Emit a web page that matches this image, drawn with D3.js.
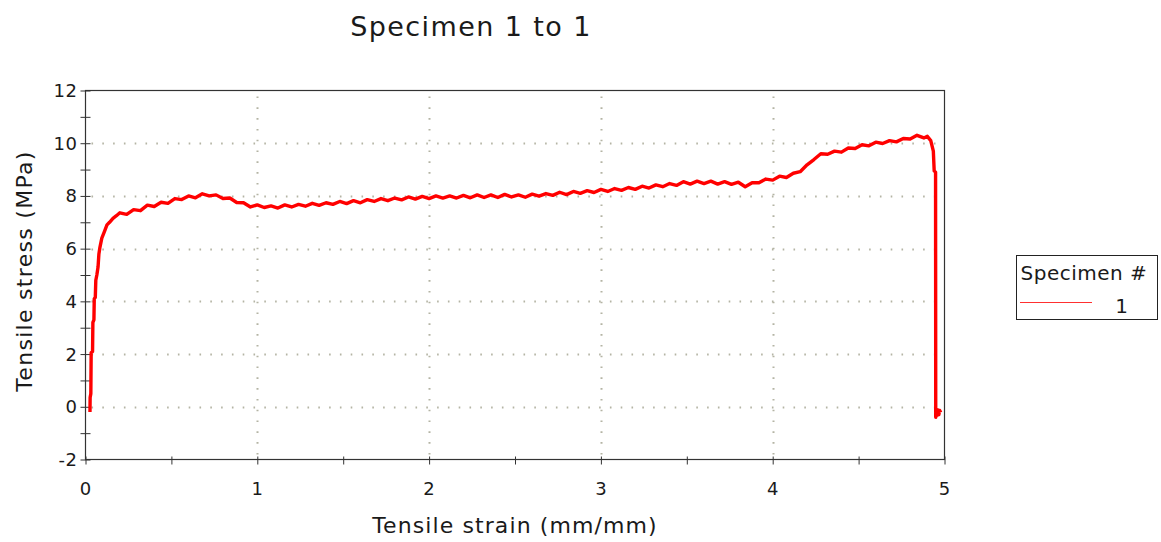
<!DOCTYPE html>
<html>
<head>
<meta charset="utf-8">
<script src="https://cdn.jsdelivr.net/npm/d3@7"></script>
<style>
  body { margin: 0; background: #fff; }
  text { font-family: "DejaVu Sans", Verdana, sans-serif; fill: #1a1a1a; }
</style>
</head>
<body>
<svg id="chart" width="1161" height="542"></svg>
<script>
// specimen 1, tensile test readings [strain (mm/mm), stress (MPa)]
const specimen1 = [
  [0.026, -0.2], [0.027, 0.35], [0.031, 0.5], [0.033, 2.05], [0.041, 2.1], [0.043, 3.2],
  [0.049, 3.3], [0.051, 4.1], [0.057, 4.15], [0.060, 4.8], [0.066, 5.0], [0.073, 5.3],
  [0.078, 5.8], [0.084, 6.05], [0.095, 6.4], [0.11, 6.65], [0.125, 6.9], [0.14, 7.0],
  [0.16, 7.15], [0.18, 7.25],
  [0.20, 7.36], [0.24, 7.30], [0.28, 7.48], [0.32, 7.44], [0.36, 7.65], [0.40, 7.60],
  [0.44, 7.76], [0.48, 7.72], [0.52, 7.90], [0.56, 7.86], [0.60, 8.00], [0.64, 7.93],
  [0.68, 8.08], [0.72, 8.00], [0.76, 8.04], [0.80, 7.90], [0.84, 7.92], [0.88, 7.75],
  [0.92, 7.74], [0.96, 7.58], [1.00, 7.66], [1.04, 7.56], [1.08, 7.62], [1.12, 7.54],
  [1.16, 7.66], [1.20, 7.58], [1.24, 7.68], [1.28, 7.61], [1.32, 7.72], [1.36, 7.64],
  [1.40, 7.74], [1.44, 7.68], [1.48, 7.79], [1.52, 7.71], [1.56, 7.82], [1.60, 7.74],
  [1.64, 7.86], [1.68, 7.79], [1.72, 7.90], [1.76, 7.82], [1.80, 7.92], [1.84, 7.85],
  [1.88, 7.96], [1.92, 7.88], [1.96, 7.98], [2.00, 7.90], [2.04, 8.00], [2.08, 7.92],
  [2.12, 8.00], [2.16, 7.92], [2.20, 8.02], [2.24, 7.93], [2.28, 8.04], [2.32, 7.94],
  [2.36, 8.04], [2.40, 7.94], [2.44, 8.06], [2.48, 7.96], [2.52, 8.04], [2.56, 7.95],
  [2.60, 8.07], [2.64, 7.99], [2.68, 8.09], [2.72, 8.02], [2.76, 8.14], [2.80, 8.05],
  [2.84, 8.17], [2.88, 8.10], [2.92, 8.20], [2.96, 8.13], [3.00, 8.25], [3.04, 8.17],
  [3.08, 8.28], [3.12, 8.21], [3.16, 8.32], [3.20, 8.25], [3.24, 8.37], [3.28, 8.30],
  [3.32, 8.42], [3.36, 8.35], [3.40, 8.47], [3.44, 8.40], [3.48, 8.54], [3.52, 8.45],
  [3.56, 8.56], [3.60, 8.47], [3.64, 8.56], [3.68, 8.45], [3.72, 8.54], [3.76, 8.44],
  [3.80, 8.52], [3.84, 8.35], [3.88, 8.50], [3.92, 8.50], [3.96, 8.64], [4.00, 8.60],
  [4.04, 8.75], [4.08, 8.70], [4.12, 8.86], [4.16, 8.92], [4.20, 9.18], [4.24, 9.38],
  [4.28, 9.60], [4.32, 9.58], [4.36, 9.70], [4.40, 9.66], [4.44, 9.82], [4.48, 9.80],
  [4.52, 9.94], [4.56, 9.90], [4.60, 10.04], [4.64, 9.99], [4.68, 10.10], [4.72, 10.05],
  [4.76, 10.18], [4.80, 10.16], [4.84, 10.30], [4.88, 10.20], [4.90, 10.26], [4.92, 10.1],
  [4.935, 9.7], [4.94, 8.95], [4.948, 8.9], [4.949, -0.4], [4.952, -0.1], [4.957, -0.32],
  [4.962, -0.12], [4.967, -0.3], [4.972, -0.14], [4.978, -0.22]
];

const yTicks = [-2, 0, 2, 4, 6, 8, 10, 12];
const yMinor = [-1, 1, 3, 5, 7, 9, 11];
const xTicks = [0, 1, 2, 3, 4, 5];
const xMinor = [0.5, 1.5, 2.5, 3.5, 4.5];
const specimens = ["1"];

const svg = d3.select("#chart");
const plotL = 85.5, plotR = 944.5, plotT = 90.5, plotB = 459.5;

const x = d3.scaleLinear().domain([0, 5]).range([plotL, plotR]);
const y = d3.scaleLinear().domain([-2, 12]).range([plotB, plotT]);

// dotted grid
const grid = svg.append("g")
  .attr("stroke", "#b4b4a4").attr("stroke-width", 2).attr("stroke-dasharray", "1.6,9.2");
grid.selectAll(".gy").data(yTicks.filter(d => d > -2 && d < 12)).join("line")
  .attr("x1", plotL + 6).attr("x2", plotR)
  .attr("y1", d => Math.round(y(d)) + 0.5).attr("y2", d => Math.round(y(d)) + 0.5);
grid.selectAll(".gx").data(xTicks.filter(d => d > 0 && d < 5)).join("line")
  .attr("y1", plotT + 6).attr("y2", plotB)
  .attr("x1", d => Math.round(x(d)) + 0.5).attr("x2", d => Math.round(x(d)) + 0.5);

// frame
svg.append("rect").attr("x", plotL).attr("y", plotT)
  .attr("width", plotR - plotL).attr("height", plotB - plotT)
  .attr("fill", "none").attr("stroke", "#333").attr("stroke-width", 1.2);

// axes, ticks cross the frame line
const yAxis = svg.append("g").attr("transform", `translate(${plotL + 5},0)`)
  .call(d3.axisLeft(y).tickValues(yTicks.concat(yMinor)).tickSize(10).tickFormat(""));
yAxis.select(".domain").remove();
yAxis.selectAll("line").attr("stroke", "#333");

const xAxis = svg.append("g").attr("transform", `translate(0,${plotB - 3})`)
  .call(d3.axisBottom(x).tickValues(xTicks.concat(xMinor)).tickSize(8).tickFormat(""));
xAxis.select(".domain").remove();
xAxis.selectAll("line").attr("stroke", "#333");

svg.append("g").selectAll("text").data(yTicks).join("text")
  .attr("x", plotL - 8).attr("y", d => y(d) + 6.5)
  .attr("text-anchor", "end").attr("font-size", 18).attr("letter-spacing", 0.5)
  .text(d => d);

svg.append("g").selectAll("text").data(xTicks).join("text")
  .attr("x", d => x(d)).attr("y", 495)
  .attr("text-anchor", "middle").attr("font-size", 18)
  .text(d => d);

// titles
svg.append("text").attr("x", 471).attr("y", 36)
  .attr("text-anchor", "middle").attr("font-size", 27).attr("letter-spacing", 1.4)
  .text("Specimen 1 to 1");
svg.append("text").attr("x", 515).attr("y", 533)
  .attr("text-anchor", "middle").attr("font-size", 22).attr("letter-spacing", 1.1)
  .text("Tensile strain (mm/mm)");
svg.append("text").attr("transform", "translate(32,271) rotate(-90)")
  .attr("text-anchor", "middle").attr("font-size", 22).attr("letter-spacing", 1.3)
  .text("Tensile stress (MPa)");

// curve
const line = d3.line().x(d => x(d[0])).y(d => y(d[1]));
svg.append("path").datum(specimen1)
  .attr("d", line).attr("fill", "none")
  .attr("stroke", "#ff0000").attr("stroke-width", 3.4).attr("stroke-linejoin", "round");

// legend
const lg = svg.append("g").attr("transform", "translate(1016.5,255.5)");
lg.append("rect").attr("width", 141).attr("height", 64)
  .attr("fill", "#fff").attr("stroke", "#222").attr("stroke-width", 1);
lg.append("text").attr("x", 4).attr("y", 24.5).attr("font-size", 20).attr("letter-spacing", 0.5)
  .text("Specimen #");
lg.selectAll(".row").data(specimens).join("g")
  .each(function (d, i) {
    const g = d3.select(this).attr("transform", `translate(0,${47 + i * 22})`);
    g.append("line").attr("x1", 3.5).attr("x2", 75.5).attr("y1", 0).attr("y2", 0)
      .attr("stroke", "#ff3030").attr("stroke-width", 1.2);
    g.append("text").attr("x", 105).attr("y", 10).attr("text-anchor", "middle")
      .attr("font-size", 20).text(d);
  });
</script>
</body>
</html>
